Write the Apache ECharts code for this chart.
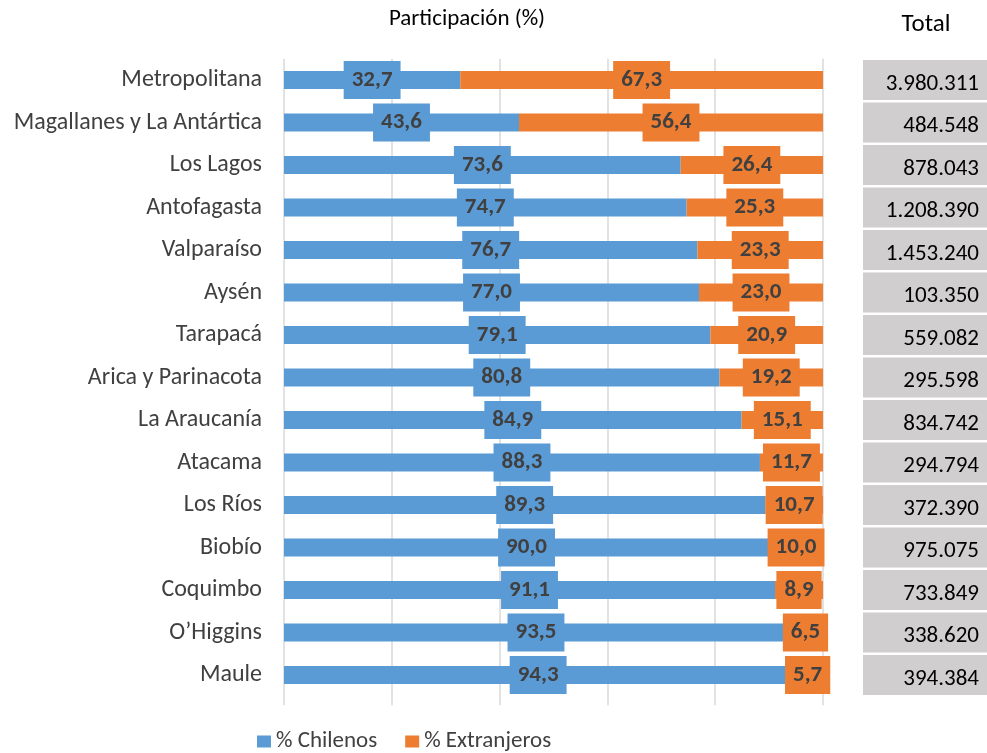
<!DOCTYPE html>
<html>
<head>
<meta charset="utf-8">
<script src="https://cdn.jsdelivr.net/npm/echarts@6/dist/echarts.min.js"></script>
<style>
  html, body { margin: 0; padding: 0; background: #fff; }
  #chart { width: 987px; height: 753px; }
</style>
</head>
<body>
<div id="chart"></div>
<script>
// regiones, de arriba hacia abajo
var regiones = ["Metropolitana", "Magallanes y La Antártica", "Los Lagos", "Antofagasta", "Valparaíso",
  "Aysén", "Tarapacá", "Arica y Parinacota", "La Araucanía", "Atacama", "Los Ríos", "Biobío",
  "Coquimbo", "O’Higgins", "Maule"];
var chilenos = [32.7, 43.6, 73.6, 74.7, 76.7, 77.0, 79.1, 80.8, 84.9, 88.3, 89.3, 90.0, 91.1, 93.5, 94.3];
var extranjeros = [67.3, 56.4, 26.4, 25.3, 23.3, 23.0, 20.9, 19.2, 15.1, 11.7, 10.7, 10.0, 8.9, 6.5, 5.7];
var totales = ["3.980.311", "484.548", "878.043", "1.208.390", "1.453.240", "103.350", "559.082",
  "295.598", "834.742", "294.794", "372.390", "975.075", "733.849", "338.620", "394.384"];
var nombres = ["% Chilenos", "% Extranjeros"];

var fuente = "Carlito, 'Liberation Sans Narrow', 'Liberation Sans', sans-serif";

function etiqueta(color) {
  return {
    show: true,
    position: "inside",
    formatter: function (p) { return p.value.toFixed(1).replace(".", ","); },
    backgroundColor: color,
    padding: [7, 8],
    lineHeight: 24,
    color: "#404040",
    fontWeight: "bold",
    fontSize: 23,
    fontFamily: fuente
  };
}

var chart = echarts.init(document.getElementById("chart"));
chart.setOption({
  animation: false,
  textStyle: { fontFamily: fuente },
  title: [
    { text: "Participación (%)", left: 462, top: 3, textAlign: "center",
      textStyle: { fontSize: 23, fontWeight: "normal", color: "#000", fontFamily: fuente } },
    { text: "Total", left: 921, top: 7, textAlign: "center",
      textStyle: { fontSize: 25, fontWeight: "normal", color: "#000", fontFamily: fuente } }
  ],
  legend: {
    data: nombres,
    left: 252,
    top: 725,
    icon: "rect",
    itemWidth: 14,
    itemHeight: 12,
    itemGap: 28,
    textStyle: { fontSize: 23, color: "#404040", fontFamily: fuente }
  },
  grid: [
    { left: 284, right: 164, top: 58.75, bottom: 56.75 },
    { left: 863, right: 0, top: 58.75, bottom: 56.75 }
  ],
  xAxis: [
    {
      gridIndex: 0, type: "value", min: 0, max: 100, interval: 20,
      axisLabel: { show: false },
      axisLine: { show: false },
      axisTick: { show: true, length: 9, lineStyle: { color: "#d9d9d9", width: 1.5 } },
      splitLine: { show: true, lineStyle: { color: "#d9d9d9", width: 1.5 } }
    },
    {
      gridIndex: 1, type: "value", min: 0, max: 1, show: false
    }
  ],
  yAxis: [
    {
      gridIndex: 0, type: "category", data: regiones, inverse: true,
      axisLine: { show: false },
      axisTick: { show: false },
      axisLabel: { fontSize: 24, color: "#404040", margin: 22, fontFamily: fuente }
    },
    {
      gridIndex: 1, type: "category", data: regiones, inverse: true, show: false
    }
  ],
  series: [
    {
      name: nombres[0], type: "bar", stack: "p", barWidth: 18,
      itemStyle: { color: "#5b9bd5" },
      label: etiqueta("#5b9bd5"),
      data: chilenos
    },
    {
      name: nombres[1], type: "bar", stack: "p", barWidth: 18,
      itemStyle: { color: "#ed7d31" },
      label: etiqueta("#ed7d31"),
      data: extranjeros
    },
    {
      name: "Total", type: "bar", xAxisIndex: 1, yAxisIndex: 1, barWidth: 40,
      itemStyle: { color: "#d0cece" },
      label: {
        show: true, position: "insideRight", distance: 8, offset: [0, 4],
        formatter: function (p) { return totales[p.dataIndex]; },
        fontSize: 23, color: "#000", fontFamily: fuente
      },
      data: totales.map(function () { return 1; })
    }
  ]
});
</script>
</body>
</html>
